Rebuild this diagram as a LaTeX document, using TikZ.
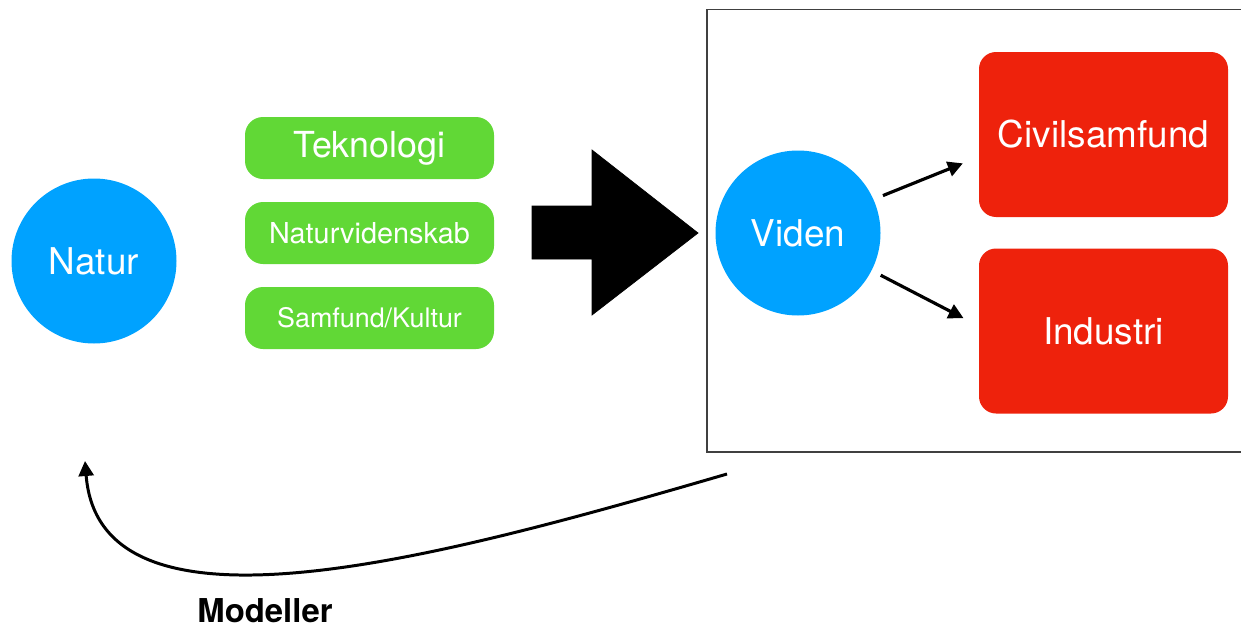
\documentclass[tikz,border=0pt]{standalone}
\usepackage{fontspec}
\setmainfont{TeX Gyre Heros}
\usetikzlibrary{arrows.meta}
\definecolor{kblue}{RGB}{0,162,255}
\definecolor{kgreen}{RGB}{97,216,54}
\definecolor{kred}{RGB}{238,34,12}
\tikzset{
	blob/.style={circle, fill=kblue, text=white, minimum size=3.3cm, inner sep=0pt, font=\fontsize{21}{25}\selectfont},
	tag/.style={rounded corners=0.36cm, fill=kgreen, text=white, minimum width=4.98cm, minimum height=1.24cm, inner sep=0pt},
	sector/.style={rounded corners=0.34cm, fill=kred, text=white, minimum width=4.98cm, minimum height=3.3cm, inner sep=0pt, font=\fontsize{21}{25}\selectfont},
	flow/.style={line width=1.8pt, -{Triangle[length=0.3cm,width=0.3cm]}},
}

\begin{document}
\begin{tikzpicture}
	%%%%% START %%%%%
	\useasboundingbox (0, 0) rectangle (24.82, 12.6);
	
	\node[blob] (natur) at (1.88, 7.38) {Natur};
	
	\node[tag, font=\fontsize{20.4}{24}\selectfont] (tek) at (7.39, 9.64) {Teknologi};
	\node[tag, font=\fontsize{16.4}{20}\selectfont] (natvid) at (7.39, 7.94) {Naturvidenskab};
	\node[tag, font=\fontsize{15.3}{18}\selectfont] (samkul) at (7.39, 6.24) {Samfund/Kultur};
	
	\draw[fill=black] (10.64, 8.48) -- (11.84, 8.48) -- (11.84, 9.6) -- (13.96, 7.94) -- (11.84, 6.3) -- (11.84, 7.42) -- (10.64, 7.42) -- cycle;
	
	\draw[line width=1pt, color=black!75] (24.82, 12.41) -- (14.14, 12.41) -- (14.14, 3.56) -- (24.82, 3.56);
	
	\node[blob] (viden) at (15.96, 7.94) {Viden};
	\node[sector] (civil) at (22.07, 9.91) {Civilsamfund};
	\node[sector] (industri) at (22.07, 5.98) {Industri};
	
	\draw[flow, shorten <=0.2cm, shorten >=0.34cm] (viden.24) -- ([yshift=-0.45cm]civil.west);
	\draw[flow, shorten <=0.2cm, shorten >=0.34cm] (viden.-27) -- ([yshift=0.1cm]industri.west);
	
	\coordinate (modfrom) at (14.54, 3.12);
	\coordinate (modto) at (1.7, 3.38);
	\draw[flow, line width=1.7pt] (modfrom) .. controls (8.78, 1.44) and (2.0, -0.42) .. (modto);
	\node[font=\bfseries\fontsize{18.7}{22}\selectfont] (modeller) at (5.3, 0.38) {Modeller};
	%%%%% END %%%%%
\end{tikzpicture}
\end{document}
